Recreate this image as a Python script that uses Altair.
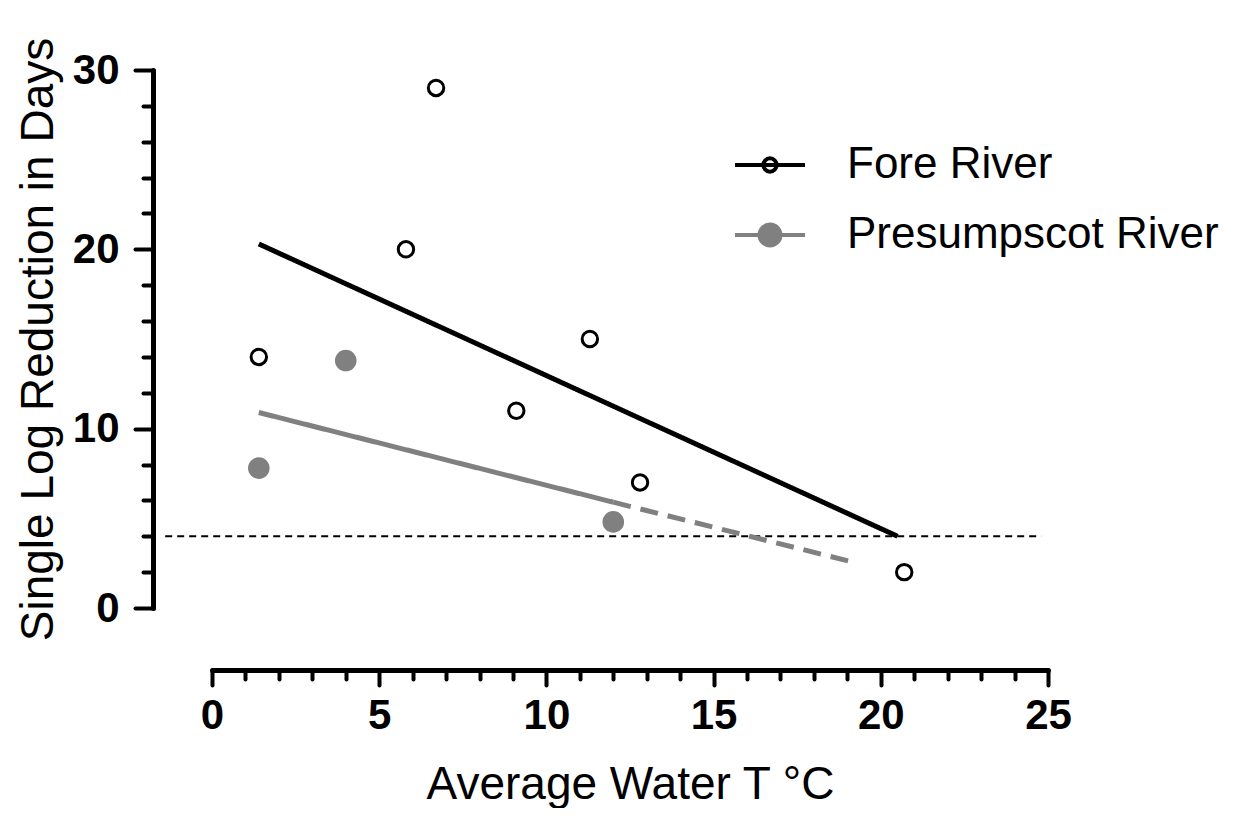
import altair as alt
import pandas as pd

rivers = ["Fore River", "Presumpscot River"]

# observed points
fore_x = [1.4, 5.8, 6.7, 9.1, 11.3, 12.8, 20.7]
fore_y = [14, 20, 29, 11, 15, 7, 2]
pres_x = [1.4, 4.0, 12.0]
pres_y = [7.8, 13.8, 4.8]

# regression line end points
fore_fit_x = [1.4, 20.5]
fore_fit_y = [20.3, 4.0]
pres_fit_solid_x = [1.4, 12.0]
pres_fit_solid_y = [10.9, 5.9]
pres_fit_dash_x = [12.0, 19.3]
pres_fit_dash_y = [5.9, 2.5]

# threshold line
thr_x = [-1.4, 24.8]
thr_y = 4

x_ticks = list(range(0, 26))
y_ticks = list(range(0, 31, 2))

pts = pd.DataFrame({
    "river": [rivers[0]] * len(fore_x) + [rivers[1]] * len(pres_x),
    "x": fore_x + pres_x,
    "y": fore_y + pres_y,
})
fits = pd.DataFrame({
    "river": [rivers[0]] * 2 + [rivers[1]] * 4,
    "seg": ["f", "f", "ps", "ps", "pd", "pd"],
    "style": ["solid", "solid", "solid", "solid", "dashed", "dashed"],
    "x": fore_fit_x + pres_fit_solid_x + pres_fit_dash_x,
    "y": fore_fit_y + pres_fit_solid_y + pres_fit_dash_y,
})
thr = pd.DataFrame({"x": [thr_x[0]], "x2": [thr_x[1]], "y": [thr_y]})

FONT = "Liberation Sans"
xs = alt.Scale(domain=[0, 25], nice=False, zero=False)
ys = alt.Scale(domain=[0, 30], nice=False, zero=False)

common_axis = dict(
    domainWidth=5, domainColor="black", domainCap="round",
    tickWidth=4, tickColor="black", tickCap="round",
    labelFont=FONT, labelFontWeight="bold", labelFontSize=42, labelColor="black",
    titleFont=FONT, titleFontWeight="normal", titleColor="black",
    grid=False, labelOverlap=False, labelFlush=False,
)

x_axis = alt.Axis(
    values=x_ticks, title="Average Water T °C",
    labelExpr="datum.value % 5 === 0 ? datum.label : ''",
    tickSize={"condition": {"test": "datum.value % 5 === 0", "value": 15}, "value": 9},
    offset=62, labelPadding=10, titleFontSize=46, titlePadding=26,
    **common_axis,
)
y_axis = alt.Axis(
    values=y_ticks, title="Single Log Reduction in Days",
    labelExpr="datum.value % 10 === 0 ? datum.label : ''",
    tickSize={"condition": {"test": "datum.value % 10 === 0", "value": 18}, "value": 10},
    offset=59, labelPadding=16, titleFontSize=46, titlePadding=10,
    **common_axis,
)

X = alt.X("x:Q", scale=xs, axis=x_axis)
Y = alt.Y("y:Q", scale=ys, axis=y_axis)

path_fore = "M-1,0L1,0M-0.19,0A0.19,0.19,0,1,1,0.19,0A0.19,0.19,0,1,1,-0.19,0Z"
path_pres = "M-1,0L1,0M-0.3,0A0.3,0.3,0,1,1,0.3,0A0.3,0.3,0,1,1,-0.3,0Z"

legend = alt.Legend(
    title=None, orient="none", legendX=521, legendY=58, padding=0,
    symbolSize=4900, symbolStrokeWidth=4, symbolOpacity=1,
    labelFont=FONT, labelFontSize=44, labelColor="black", labelOffset=40,
    labelLimit=600, rowPadding=11,
)

fill_scale = alt.Scale(domain=rivers, range=["white", "#808080"])
stroke_scale = alt.Scale(domain=rivers, range=["black", "#808080"])
shape_scale = alt.Scale(domain=rivers, range=[path_fore, path_pres])

thr_layer = alt.Chart(thr).mark_rule(color="black", strokeWidth=2, strokeDash=[7, 5]).encode(
    x=X, x2="x2:Q", y=Y
)

fit_layer = alt.Chart(fits).mark_line(strokeWidth=5).encode(
    x=X, y=Y,
    stroke=alt.Stroke("river:N", scale=stroke_scale, legend=legend),
    strokeDash=alt.StrokeDash("style:N", scale=alt.Scale(domain=["solid", "dashed"], range=[[1, 0], [18, 10]]), legend=None),
    detail="seg:N",
)

# invisible layer only carrying the legend symbol shapes
legend_layer = alt.Chart(pts).mark_point(filled=True, opacity=0).encode(
    x=X, y=Y,
    shape=alt.Shape("river:N", scale=shape_scale, legend=legend),
    fill=alt.Fill("river:N", scale=fill_scale, legend=legend),
    stroke=alt.Stroke("river:N", scale=stroke_scale, legend=legend),
)

fore_pts = alt.Chart(pts).transform_filter(alt.datum.river == rivers[0]).mark_point(
    shape="circle", filled=True, strokeWidth=3, opacity=1, size=238
).encode(
    x=X, y=Y,
    fill=alt.Fill("river:N", scale=fill_scale, legend=legend),
    stroke=alt.Stroke("river:N", scale=stroke_scale, legend=legend),
)

pres_pts = alt.Chart(pts).transform_filter(alt.datum.river == rivers[1]).mark_point(
    shape="circle", filled=True, strokeWidth=3, opacity=1, size=346
).encode(
    x=X, y=Y,
    fill=alt.Fill("river:N", scale=fill_scale, legend=legend),
    stroke=alt.Stroke("river:N", scale=stroke_scale, legend=legend),
)

chart = alt.layer(thr_layer, fit_layer, legend_layer, fore_pts, pres_pts).properties(
    width=836, height=538,
    padding={"left": 204, "top": 62, "right": 195, "bottom": 200},
    autosize=alt.AutoSizeParams(type="none"),
).configure(background="white").configure_view(stroke=None, strokeWidth=0)

chart.save("out.html", embed_options={"renderer": "svg", "actions": False})
